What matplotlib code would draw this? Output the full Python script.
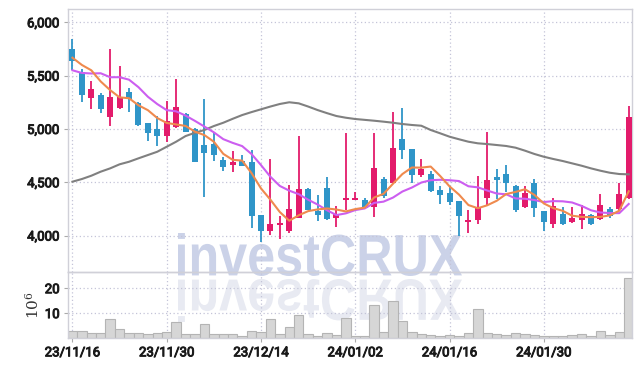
import matplotlib
matplotlib.use("Agg")
import matplotlib.pyplot as plt
import matplotlib.patheffects as pe
import numpy as np
import pandas as pd
from matplotlib.font_manager import FontProperties
from matplotlib.patches import PathPatch
from matplotlib.textpath import TextPath
from matplotlib.ticker import FuncFormatter, FixedLocator
from matplotlib.transforms import Affine2D

# trading days (KRX), 60 sessions
dates = [
    "2023-11-16", "2023-11-17", "2023-11-20", "2023-11-21", "2023-11-22",
    "2023-11-23", "2023-11-24", "2023-11-27", "2023-11-28", "2023-11-29",
    "2023-11-30", "2023-12-01", "2023-12-04", "2023-12-05", "2023-12-06",
    "2023-12-07", "2023-12-08", "2023-12-11", "2023-12-12", "2023-12-13",
    "2023-12-14", "2023-12-15", "2023-12-18", "2023-12-19", "2023-12-20",
    "2023-12-21", "2023-12-22", "2023-12-26", "2023-12-27", "2023-12-28",
    "2024-01-02", "2024-01-03", "2024-01-04", "2024-01-05", "2024-01-08",
    "2024-01-09", "2024-01-10", "2024-01-11", "2024-01-12", "2024-01-15",
    "2024-01-16", "2024-01-17", "2024-01-18", "2024-01-19", "2024-01-22",
    "2024-01-23", "2024-01-24", "2024-01-25", "2024-01-26", "2024-01-29",
    "2024-01-30", "2024-01-31", "2024-02-01", "2024-02-02", "2024-02-05",
    "2024-02-06", "2024-02-07", "2024-02-08", "2024-02-13", "2024-02-14",
]

opens = [5750, 5530, 5290, 5320, 5110, 5200, 5350, 5240, 5060, 5000,
         4930, 5020, 5140, 5000, 4850, 4860, 4710, 4665, 4700, 4690,
         4190, 4040, 4100, 4045, 4165, 4440, 4230, 4445, 4160, 4335,
         4335, 4330, 4270, 4530, 4490, 4905, 4810, 4565, 4575, 4425,
         4395, 4320, 4130, 4145, 4350, 4545, 4575, 4465, 4270, 4495,
         4230, 4105, 4200, 4125, 4145, 4190, 4155, 4250, 4245, 4350]
highs = [5840, 5560, 5450, 5340, 5750, 5590, 5380, 5250, 5060, 5120,
         5260, 5470, 5150, 5010, 5280, 4970, 4740, 4790, 4760, 4800,
         4190, 4720, 4180, 4470, 4930, 4450, 4380, 4545, 4280, 4960,
         4405, 4350, 4960, 4545, 5160, 5195, 4810, 4720, 4610, 4460,
         4460, 4320, 4240, 4555, 4975, 4620, 4660, 4475, 4465, 4530,
         4230, 4350, 4270, 4270, 4290, 4200, 4390, 4265, 4490, 5215]
lows = [5550, 5250, 5190, 5150, 5030, 5190, 5160, 5030, 4890, 4840,
        4880, 5010, 4970, 4690, 4360, 4700, 4610, 4600, 4650, 4070,
        3940, 4005, 3970, 4020, 4160, 4235, 4140, 4150, 4080, 4240,
        4330, 4255, 4170, 4350, 4490, 4715, 4490, 4545, 4405, 4300,
        4290, 4000, 4020, 4105, 4280, 4345, 4410, 4225, 4255, 4175,
        4045, 4075, 4095, 4120, 4060, 4100, 4150, 4160, 4240, 4345]
closes = [5640, 5320, 5370, 5190, 5300, 5300, 5280, 5040, 4960, 4930,
          5070, 5210, 4970, 4690, 4770, 4760, 4640, 4690, 4655, 4180,
          4045, 4110, 4110, 4250, 4435, 4240, 4190, 4155, 4200, 4345,
          4350, 4260, 4630, 4370, 4820, 4805, 4565, 4625, 4420, 4380,
          4315, 4180, 4135, 4270, 4520, 4525, 4495, 4235, 4395, 4255,
          4125, 4275, 4110, 4165, 4200, 4110, 4290, 4180, 4385, 5110]

# moving averages as drawn on the chart
ma5 = [5668, 5600, 5550, 5445, 5364, 5296, 5288, 5222, 5176, 5102,
       5056, 5042, 5028, 4974, 4942, 4880, 4766, 4710, 4703, 4585,
       4442, 4336, 4220, 4139, 4190, 4229, 4245, 4254, 4244, 4226,
       4248, 4262, 4357, 4391, 4486, 4577, 4638, 4637, 4647, 4559,
       4461, 4384, 4286, 4256, 4284, 4326, 4389, 4409, 4434, 4381,
       4301, 4257, 4232, 4186, 4175, 4172, 4175, 4189, 4233, 4415]
ma10 = [5550, 5525, 5520, 5522, 5485, 5485, 5462, 5392, 5302, 5233,
        5176, 5165, 5125, 5075, 5022, 4968, 4904, 4869, 4839, 4764,
        4661, 4551, 4465, 4421, 4388, 4336, 4291, 4237, 4192, 4208,
        4239, 4254, 4306, 4318, 4356, 4413, 4450, 4497, 4519, 4523,
        4519, 4511, 4462, 4452, 4422, 4394, 4387, 4348, 4345, 4333,
        4314, 4323, 4321, 4310, 4278, 4237, 4216, 4211, 4210, 4296]
ma60 = [4505, 4530, 4561, 4599, 4630, 4668, 4692, 4724, 4755, 4786,
        4833, 4880, 4933, 4964, 4990, 5027, 5058, 5095, 5130, 5158,
        5184, 5210, 5234, 5250, 5240, 5210, 5177, 5148, 5121, 5105,
        5093, 5085, 5077, 5068, 5058, 5046, 5037, 5030, 4990, 4959,
        4927, 4903, 4880, 4865, 4858, 4849, 4840, 4824, 4796, 4765,
        4739, 4718, 4699, 4677, 4655, 4630, 4608, 4589, 4577, 4574]

# volume, millions of shares
volume = [2.9, 2.9, 2.0, 2.0, 7.6, 3.6, 2.0, 2.0, 1.6, 2.0,
          2.4, 6.4, 1.6, 1.6, 5.6, 1.6, 1.6, 1.6, 1.0, 2.8,
          2.4, 7.6, 1.6, 4.4, 9.2, 1.6, 1.0, 2.0, 1.2, 8.0,
          1.0, 1.0, 13.3, 2.4, 14.9, 6.9, 2.5, 1.7, 1.2, 0.9,
          1.2, 0.9, 2.0, 11.6, 2.0, 1.6, 1.2, 2.0, 1.6, 1.2,
          1.0, 0.8, 1.0, 1.2, 1.6, 1.0, 2.9, 1.2, 2.4, 24.0]

UP = "#e31b6b"
DOWN = "#2f95c8"
GRID = "#c4c4d8"
SPINE = "#d0d0d8"

df = pd.DataFrame({"date": pd.to_datetime(dates), "open": opens, "high": highs,
                   "low": lows, "close": closes, "volume": volume,
                   "ma5": ma5, "ma10": ma10, "ma60": ma60})
x = np.arange(len(df))
up = df["close"] >= df["open"]
colors = np.where(up, UP, DOWN)

fig = plt.figure(figsize=(6.42, 3.66), dpi=100)
fig.patch.set_facecolor("white")

# watermark + reflection, behind everything
prop = FontProperties(family=["Liberation Sans", "DejaVu Sans"], weight="bold")
tp = TextPath((0, 0), "investCRUX", size=1, prop=prop)
bb = tp.get_extents()
sx, sy = 284 / bb.width, 43 / bb.height
t_main = Affine2D().translate(-bb.x0, -bb.y0).scale(sx, sy).translate(178, 90)
t_refl = Affine2D().translate(-bb.x0, -bb.y0).scale(sx, -sy).translate(178, 87)
fig.add_artist(PathPatch(tp, transform=t_main, facecolor="#cbd2e8", edgecolor="none", zorder=-2))
fig.add_artist(PathPatch(tp, transform=t_refl, facecolor="#e8eaf2", edgecolor="none", zorder=-2))

left, width = 68 / 642, 564 / 642
ax = fig.add_axes([left, 1 - 272 / 366, width, 262.7 / 366])
axv = fig.add_axes([left, 1 - 338 / 366, width, 66 / 366], sharex=ax)

for a in (ax, axv):
    a.set_facecolor("none")
    for s in a.spines.values():
        s.set_color(SPINE)
        s.set_linewidth(1.0)
    a.grid(True, color=GRID, linestyle=(0, (1, 2)), linewidth=0.9)
    a.set_axisbelow(True)
    a.tick_params(axis="both", length=3, color="#aaaaaa", labelsize=9.5,
                  labelcolor="#1a1a1a", pad=3)
    a.xaxis.set_major_locator(FixedLocator(x[::10]))

tick_font = ["Roboto", "DejaVu Sans"]
heavy = [pe.withStroke(linewidth=0.7, foreground="#1a1a1a")]

# candles
body_h = np.maximum((df["close"] - df["open"]).abs(), 18)
body_bottom = np.minimum(df["open"], df["close"])
ax.vlines(x, df["low"], df["high"], colors=colors, linewidth=1.3, zorder=2)
ax.bar(x, body_h, bottom=body_bottom, width=0.64, color=colors, linewidth=0, zorder=3)

ax.plot(x, df["ma60"], color="#808080", linewidth=1.5, zorder=4)
ax.plot(x, df["ma10"], color="#cc5ef0", linewidth=1.5, zorder=4)
ax.plot(x, df["ma5"], color="#ef8a4e", linewidth=1.5, zorder=4)

ax.set_xlim(-0.47, 59.35)
ax.set_ylim(3658, 6122)
ax.yaxis.set_major_locator(FixedLocator([4000, 4500, 5000, 5500, 6000]))
ax.yaxis.set_major_formatter(FuncFormatter(lambda v, p: f"{v:,.0f}"))
ax.tick_params(axis="x", labelbottom=False, length=0)

# volume
axv.bar(x, df["volume"], width=1.0, color="#d6d6d6", edgecolor="#b4b4b4", linewidth=0.8, zorder=2)
axv.set_ylim(0, 26.5)
axv.yaxis.set_major_locator(FixedLocator([10, 20]))
axv.set_xticks(x[::10])
axv.set_xticklabels(df["date"].dt.strftime("%y/%m/%d")[::10])
axv.set_ylabel(r"$10^{6}$", math_fontfamily="dejavuserif", fontsize=11,
               color="#333333", labelpad=2)

for a in (ax, axv):
    for lab in a.get_xticklabels() + a.get_yticklabels():
        lab.set_family(tick_font)
        lab.set_path_effects(heavy)

fig.savefig("out.png", dpi=100)
